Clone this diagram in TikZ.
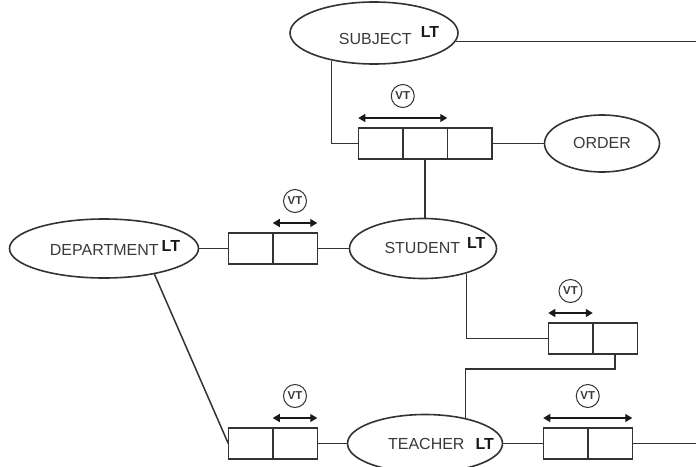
\documentclass[tikz,border=0pt]{standalone}
\usepackage{fontspec}
\setmainfont{Liberation Sans}
\usetikzlibrary{shapes.geometric,positioning,arrows.meta}

\definecolor{linegray}{HTML}{333333}
\definecolor{textgray}{HTML}{3A3A3A}

\newcommand{\ltmark}[1]{\raisebox{#1}{\color{black!90}\bfseries LT}}

\tikzset{
  entity/.style={ellipse, draw=linegray, line width=1.6pt, fill=white, inner sep=0pt},
  cell/.style={draw=linegray, line width=1.5pt, minimum width=44.5pt, minimum height=31pt, inner sep=0pt, outer sep=0pt},
  vtmark/.style={circle, draw=linegray, line width=1pt, minimum size=23pt, inner sep=0pt, font=\bfseries\fontsize{11.5}{12}\selectfont, text=textgray},
  span/.style={{Triangle[length=7pt,width=8pt]}-{Triangle[length=7pt,width=8pt]}, line width=1.3pt, draw=black!90},
  link/.style={draw=linegray, line width=1.5pt},
  every label/.style={font=\fontsize{16}{18}\selectfont, text=textgray, inner sep=0pt}
}

\begin{document}
\begin{tikzpicture}[x=1pt, y=-1pt]
  \useasboundingbox (0,0) rectangle (696,466);
  % entities (LT = lifespan, labels pushed a bit right)
  \node[entity, minimum width=168pt, minimum height=62pt,
    label={[xshift=15pt, yshift=-2.5pt]center:SUBJECT\hspace{9pt}\ltmark{7pt}}] (subject) at (374,33) {};
  \node[entity, minimum width=115pt, minimum height=57pt,
    label={[yshift=1pt]center:ORDER}] (order) at (602,143.5) {};
  \node[entity, minimum width=189pt, minimum height=59pt,
    label={[xshift=11pt, yshift=1pt]center:DEPARTMENT\hspace{3pt}\ltmark{4pt}}] (department) at (104,248.5) {};
  \node[entity, minimum width=147pt, minimum height=60pt,
    label={[xshift=12pt, yshift=2.5pt]center:STUDENT\hspace{7pt}\ltmark{5pt}}] (student) at (423,248.5) {};
  \node[entity, minimum width=155pt, minimum height=58pt,
    label={[xshift=16pt, yshift=-0.5pt]center:TEACHER\hspace{11pt}\ltmark{0pt}}] (teacher) at (425,443.5) {};

  % relationship boxes
  \node[cell] (ro1) at (380.5,143.5) {};
  \node[cell, right=0pt of ro1] (ro2) {};
  \node[cell, right=0pt of ro2] (ro3) {};
  \node[cell] (db1) at (250.5,248.5) {};
  \node[cell, right=0pt of db1] (db2) {};
  \node[cell] (sb1) at (570.5,338.5) {};
  \node[cell, right=0pt of sb1] (sb2) {};
  \node[cell] (tb1) at (250.5,443.5) {};
  \node[cell, right=0pt of tb1] (tb2) {};
  \node[cell] (tr1) at (565.5,443.5) {};
  \node[cell, right=0pt of tr1] (tr2) {};

  % free ends at the right border
  \coordinate (sjout) at (696,41);
  \coordinate (trout) at (696,443.5);

  % links
  \draw[link] (subject.354) -- (subject.354 -| sjout);
  \draw[link] (subject.213) |- (ro1.west);
  \draw[link] (ro3.east) -- (order.west);
  \draw[link] (ro2.south) -- (ro2.south |- student.north);
  \draw[link] (department.east) -- (db1.west);
  \draw[link] (db2.east) -- (student.west);
  \draw[link] (student.330) |- (sb1.west);
  \draw[link] (teacher.32) |- ([yshift=-15pt]sb2.south) -- (sb2.south);
  \draw[link] (department.333) -- (tb1.west);
  \draw[link] (tb2.east) -- (teacher.west);
  \draw[link] (teacher.east) -- (tr1.west);
  \draw[link] (tr2.east) -- (trout);

  % valid time spans
  \foreach \a/\b/\n in {ro1/ro2/order, db2/db2/dept, sb1/sb1/stud, tb2/tb2/teach, tr1/tr2/tright}
    \draw[span] ([yshift=10pt]\a.north west) -- ([yshift=10pt]\b.north east)
      node[vtmark, midway, above=10pt] (vt-\n) {VT};
\end{tikzpicture}
\end{document}
